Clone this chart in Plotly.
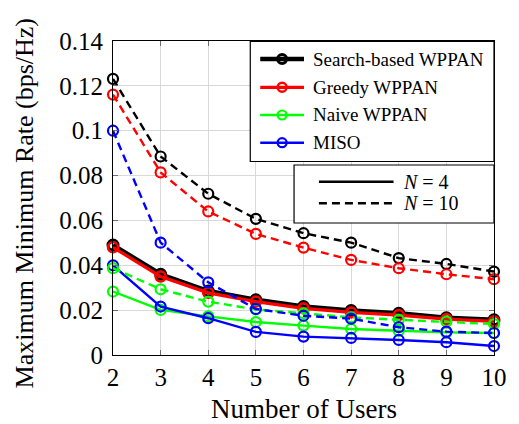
import plotly.graph_objects as go

# ---------------- data ----------------
users = [2, 3, 4, 5, 6, 7, 8, 9, 10]

search_n4 = [0.0490, 0.0360, 0.0285, 0.0246, 0.0216, 0.0198, 0.0186, 0.0166, 0.0157]
greedy_n4 = [0.0480, 0.0350, 0.0277, 0.0238, 0.0208, 0.0190, 0.0178, 0.0160, 0.0150]
naive_n4 = [0.0283, 0.0201, 0.0172, 0.0147, 0.0131, 0.0116, 0.0108, 0.0101, 0.0098]
miso_n4 = [0.0400, 0.0216, 0.0164, 0.0103, 0.0082, 0.0076, 0.0067, 0.0057, 0.0040]

search_n10 = [0.1231, 0.0885, 0.0719, 0.0607, 0.0543, 0.0501, 0.0432, 0.0406, 0.0372]
greedy_n10 = [0.1161, 0.0814, 0.0640, 0.0540, 0.0479, 0.0424, 0.0387, 0.0360, 0.0338]
naive_n10 = [0.0387, 0.0293, 0.0238, 0.0203, 0.0186, 0.0168, 0.0157, 0.0149, 0.0138]
miso_n10 = [0.1000, 0.0501, 0.0324, 0.0205, 0.0175, 0.0162, 0.0124, 0.0104, 0.0098]

y_tickvals = [0, 0.02, 0.04, 0.06, 0.08, 0.10, 0.12, 0.14]
y_ticktext = ["0", "0.02", "0.04", "0.06", "0.08", "0.1", "0.12", "0.14"]
x_tickvals = users

scheme_names = ["Search-based WPPAN", "Greedy WPPAN", "Naive WPPAN", "MISO"]
n_labels = ["<i>N</i> = 4", "<i>N</i> = 10"]

# ---------------- style ----------------
W, H = 519, 424
ML, MR, MT, MB = 113, 23, 41, 69
PW, PH = W - ML - MR, H - MT - MB
FONT = "Liberation Serif, Times New Roman, serif"

colors = ["#000000", "#ff0000", "#00ff00", "#0000ff"]
widths_n4 = [4.5, 3.2, 2.4, 2.4]
mwidths_n4 = [3, 2.5, 2.2, 2.2]
DASH = "8px,5px"

fig = go.Figure()

series_n4 = [search_n4, greedy_n4, naive_n4, miso_n4]
series_n10 = [search_n10, greedy_n10, naive_n10, miso_n10]

for vals, c, lw, mw, nm in zip(series_n4, colors, widths_n4, mwidths_n4, scheme_names):
    fig.add_trace(go.Scatter(
        x=users, y=vals, mode="lines+markers", name=nm + " (N=4)",
        line=dict(color=c, width=lw),
        marker=dict(symbol="circle-open", size=10, color=c, line=dict(width=mw, color=c)),
        cliponaxis=False, showlegend=False))

for vals, c, nm in zip(series_n10, colors, scheme_names):
    fig.add_trace(go.Scatter(
        x=users, y=vals, mode="lines+markers", name=nm + " (N=10)",
        line=dict(color=c, width=2.4, dash=DASH),
        marker=dict(symbol="circle-open", size=10, color=c, line=dict(width=2.2, color=c)),
        cliponaxis=False, showlegend=False))


def px2x(px):
    return (px - ML) / PW


def py2y(py):
    return (H - MB - py) / PH


shapes = []
annotations = []

# legend 1 (schemes)
shapes.append(dict(type="rect", xref="paper", yref="paper",
                   x0=px2x(251), x1=px2x(496), y0=py2y(161.5), y1=py2y(41.5),
                   line=dict(color="black", width=1.2), fillcolor="white", layer="above"))
rows = [59, 87.3, 115, 142.7]
for i, (nm, c) in enumerate(zip(scheme_names, colors)):
    yy = py2y(rows[i])
    shapes.append(dict(type="line", xref="paper", yref="paper",
                       x0=px2x(261), x1=px2x(305), y0=yy, y1=yy,
                       line=dict(color=c, width=widths_n4[i]), layer="above"))
    shapes.append(dict(type="circle", xref="paper", yref="paper",
                       xsizemode="pixel", ysizemode="pixel",
                       xanchor=px2x(283), yanchor=yy, x0=-4.5, x1=4.5, y0=-4.5, y1=4.5,
                       line=dict(color=c, width=mwidths_n4[i]), fillcolor="rgba(0,0,0,0)",
                       layer="above"))
    annotations.append(dict(xref="paper", yref="paper", x=px2x(312), y=yy,
                            text=nm, showarrow=False, xanchor="left", yanchor="middle",
                            font=dict(family=FONT, size=19, color="black")))

# legend 2 (N)
shapes.append(dict(type="rect", xref="paper", yref="paper",
                   x0=px2x(295), x1=px2x(496), y0=py2y(223), y1=py2y(165),
                   line=dict(color="black", width=1.2), fillcolor="white", layer="above"))
rows2 = [181.7, 203.3]
for i, (lab, dsh) in enumerate(zip(n_labels, ["solid", DASH])):
    yy = py2y(rows2[i])
    shapes.append(dict(type="line", xref="paper", yref="paper",
                       x0=px2x(320), x1=px2x(395), y0=yy, y1=yy,
                       line=dict(color="black", width=2.4, dash=dsh), layer="above"))
    annotations.append(dict(xref="paper", yref="paper", x=px2x(403), y=yy,
                            text=lab, showarrow=False, xanchor="left", yanchor="middle",
                            font=dict(family=FONT, size=20, color="black")))

# axis titles
annotations.append(dict(xref="paper", yref="paper", x=px2x(304.5), y=py2y(409),
                        text="Number of Users", showarrow=False,
                        xanchor="center", yanchor="middle",
                        font=dict(family=FONT, size=27, color="black")))
annotations.append(dict(xref="paper", yref="paper", x=px2x(24), y=py2y(203),
                        text="Maximum Minimum Rate (bps/Hz)", showarrow=False, textangle=-90,
                        xanchor="center", yanchor="middle",
                        font=dict(family=FONT, size=26, color="black")))

axis_common = dict(
    showline=True, linecolor="black", linewidth=1.2, mirror="ticks",
    showgrid=True, gridcolor="#d9d9d9", gridwidth=1,
    ticks="inside", ticklen=5, tickcolor="#6e6e6e", tickwidth=1,
    zeroline=False,
    tickfont=dict(family=FONT, size=25, color="black"),
)

fig.update_layout(
    width=W, height=H,
    margin=dict(l=ML, r=MR, t=MT, b=MB, pad=0),
    paper_bgcolor="white", plot_bgcolor="white",
    showlegend=False,
    font=dict(family=FONT),
    xaxis=dict(range=[2, 10], tickvals=x_tickvals, ticklabelstandoff=0, **axis_common),
    yaxis=dict(range=[0, 0.14], tickvals=y_tickvals, ticktext=y_ticktext,
               ticklabelstandoff=4, **axis_common),
    shapes=shapes,
    annotations=annotations,
)

fig.write_html("out.html")
